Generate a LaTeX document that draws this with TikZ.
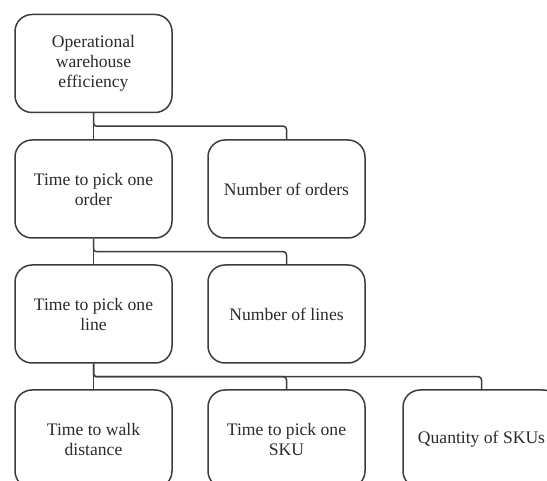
\documentclass[tikz,border=0pt]{standalone}
\usepackage{fontspec}
\setmainfont{Liberation Serif}
\begin{document}
\begin{tikzpicture}[x=1pt,y=-1pt,
  box/.style={draw=linegray, line width=1.5pt, rounded corners=17pt,
    minimum width=157pt, minimum height=98pt, inner sep=0pt,
    align=center, text=textgray,
    font=\fontsize{17.6}{20}\selectfont},
  link/.style={draw=linegray, line width=1.5pt, rounded corners=3pt}]
\definecolor{linegray}{HTML}{3C3C3C}
\definecolor{textgray}{HTML}{2A2A2A}
\useasboundingbox (0,0) rectangle (547,481);
\clip (0,0) rectangle (547,481);

% level 1
\node[box] (eff) at (93.5,63.5) {Operational\\warehouse\\efficiency};
% level 2
\node[box] (order) at (93.5,189) {Time to pick one\\order};
\node[box] (norders) at (286.5,189) {Number of orders};
% level 3
\node[box] (line) at (93.5,314) {Time to pick one\\line};
\node[box] (nlines) at (286.5,314) {Number of lines};
% level 4
\node[box] (walk) at (93.5,439) {Time to walk\\distance};
\node[box] (sku) at (286.5,439) {Time to pick one\\SKU};
\node[box] (qty) at (481.5,439) {Quantity of SKUs};

% connectors
\draw[link] (eff.south) -- (order.north);
\draw[link] (eff.south) -- ++(0,13) -| (norders.north);

\draw[link] (order.south) -- (line.north);
\draw[link] (order.south) -- ++(0,13) -| (nlines.north);

\draw[link] (line.south) -- (walk.north);
\draw[link] (line.south) -- ++(0,13) -| (sku.north);
\draw[link] (line.south) -- ++(0,13) -| (qty.north);
\end{tikzpicture}
\end{document}
